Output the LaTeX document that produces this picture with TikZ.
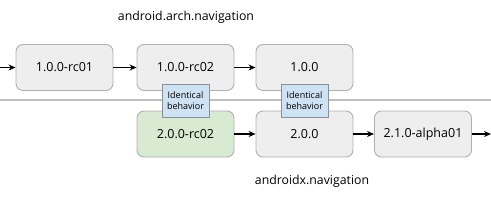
\documentclass[tikz,border=0pt]{standalone}
\usepackage{fontspec}
\setmainfont{Open Sans}
\usetikzlibrary{arrows.meta}
\definecolor{boxgray}{HTML}{EEEEEE}
\definecolor{boxline}{HTML}{B0B0B0}
\definecolor{boxgreen}{HTML}{D9EAD3}
\definecolor{notefill}{HTML}{CFE2F3}
\definecolor{noteline}{HTML}{8A9099}
\tikzset{
  version/.style={draw=boxline, fill=boxgray, rounded corners=7pt, line width=0.9pt,
    minimum width=97pt, minimum height=46pt, inner sep=0pt, font=\fontsize{12.5}{14}\selectfont},
  note/.style={draw=noteline, fill=notefill, line width=0.7pt, minimum width=47pt,
    minimum height=33pt, inner sep=0pt, align=center, font=\fontsize{9}{10.5}\selectfont},
  link/.style={-{Stealth[length=7pt,width=6pt]}, line width=1.5pt}
}
\begin{document}
\begin{tikzpicture}[x=1pt,y=-1pt]
  \useasboundingbox (0,0) rectangle (491,201);
  \fill[white] (0,0) rectangle (491,201);

  \node (arch_label) at (186,17) {\fontsize{12.3}{14}\selectfont android.arch.navigation};
  \node (x_label) at (312,181) {\fontsize{12.3}{14}\selectfont androidx.navigation};

  \draw[boxline!80, line width=1.3pt] (0,100) -- (491,100);

  \coordinate (arch_in) at (0,67.5);
  \node (rc01) at (64.5,67.5) [version] {1.0.0-rc01};
  \node (rc02) at (185.5,67.5) [version] {1.0.0-rc02};
  \node (final) at (304.5,67.5) [version] {1.0.0};

  \node (x_rc02) at (185.5,134) [version, fill=boxgreen] {2.0.0-rc02};
  \node (x_final) at (304.5,134) [version] {2.0.0};
  \node (x_alpha) at (423,134) [version] {2.1.0-alpha01};
  \coordinate (x_out) at (491,134);

  \draw[link] (arch_in) -- (rc01);
  \draw[link] (rc01) -- (rc02);
  \draw[link] (rc02) -- (final);
  \draw[link] (x_rc02) -- (x_final);
  \draw[link] (x_final) -- (x_alpha);
  \draw[link] (x_alpha) -- (x_out);

  \node (same1) at (185.5,100.5) [note] {Identical\\behavior};
  \node (same2) at (304.5,100.5) [note] {Identical\\behavior};
\end{tikzpicture}
\end{document}
